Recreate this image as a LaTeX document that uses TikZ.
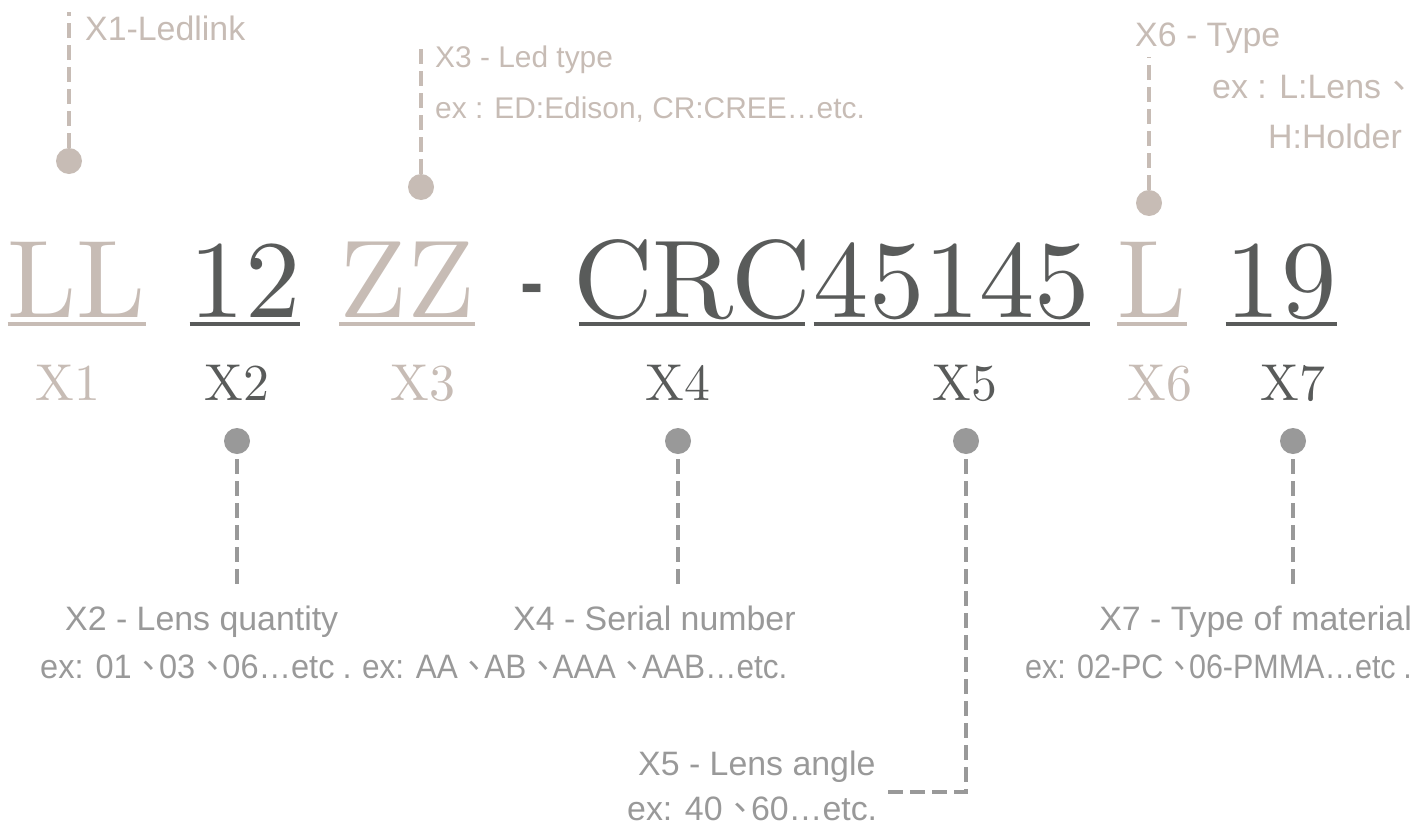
\documentclass[tikz,border=0pt]{standalone}
\usepackage{fontspec}
\usepackage{graphicx}
\usepackage{tikz}
\usetikzlibrary{calc}
\newfontfamily\labfont{Liberation Sans}
\newfontfamily\bigfont{lmroman10-regular.otf}
\newfontfamily\cjk[RawFeature=+halt]{Noto Sans CJK TC}
\newcommand{\dun}{{\cjk 、}\hspace{0.06em}}
\definecolor{beige}{RGB}{199,188,181}
\definecolor{darkgr}{RGB}{89,91,90}
\definecolor{midgr}{RGB}{153,153,153}

\begin{document}
\begin{tikzpicture}[x=1bp, y=-1bp,
    bigtxt/.style={anchor=base, inner sep=0pt, font=\bigfont\fontsize{111}{111}\selectfont},
    codetxt/.style={anchor=base, inner sep=0pt, font=\bigfont\fontsize{52}{52}\selectfont},
    notetxt/.style={anchor=base west, inner sep=0pt, font=\labfont\fontsize{34}{40}\selectfont},
    pin/.style={circle, fill, inner sep=0pt, minimum size=26bp},
    leader/.style={dash pattern=on 15bp off 7bp, line width=3.5bp}]
    \useasboundingbox (0,0) rectangle (1425,830);

    % Part code
    \node[bigtxt, beige]  (ll)   at (77,317)   {LL};
    \node[bigtxt, darkgr] (n12)  at (245,317)  {12};
    \node[bigtxt, beige]  (zz)   at (407,317)  {ZZ};
    \node[bigtxt, darkgr, font=\labfont\bfseries\fontsize{70}{70}\selectfont] (hyph) at (532,306) {-};
    \node[bigtxt, darkgr, inner xsep=-6bp] (crc) at (692,317) {CRC};
    \node[bigtxt, darkgr] (n45)  at (952,317)  {45145};
    \node[bigtxt, beige]  (l6)   at (1152,317) {L};
    \node[bigtxt, darkgr] (n19)  at (1281,317) {19};
    \foreach \n/\c in {ll/beige, n12/darkgr, zz/beige, crc/darkgr, n45/darkgr, l6/beige, n19/darkgr}
        \draw[\c, line width=4bp] ([yshift=-7bp]\n.base west) -- ([yshift=-7bp]\n.base east);

    % Field names
    \node[codetxt, beige]  (x1) at (68,400)   {X1};
    \node[codetxt, darkgr] (x2) at (237,400)  {X2};
    \node[codetxt, beige]  (x3) at (423,400)  {X3};
    \node[codetxt, darkgr] (x4) at (678,400)  {X4};
    \node[codetxt, darkgr] (x5) at (965,400)  {X5};
    \node[codetxt, beige]  (x6) at (1160,400) {X6};
    \node[codetxt, darkgr] (x7) at (1293,400) {X7};

    % Upper pins
    \node[pin, beige] (p1) at (69,161) {};
    \node[pin, beige] (p3) at (421,187) {};
    \node[pin, beige] (p6) at (1149,203) {};
    \coordinate (t1) at (69,12);
    \coordinate (t3) at (421,42);
    \coordinate (t6) at (1149,57);
    \draw[leader, beige] (p1) -- (t1);
    \draw[leader, beige] (p3) -- (t3);
    \draw[leader, beige] (p6) -- (t6);

    % Lower pins
    \node[pin, midgr] (p2) at (237,441) {};
    \node[pin, midgr] (p4) at (678,441) {};
    \node[pin, midgr] (p5) at (966,441) {};
    \node[pin, midgr] (p7) at (1293,441) {};
    \coordinate (b2) at (237,590);
    \coordinate (b4) at (678,590);
    \coordinate (b5) at (887,792);
    \coordinate (b7) at (1293,590);
    \draw[leader, midgr] ([yshift=-5bp]p2.south) -- (b2);
    \draw[leader, midgr] ([yshift=-5bp]p4.south) -- (b4);
    \draw[leader, midgr] ([yshift=-5bp]p5.south) |- (b5);
    \draw[leader, midgr] ([yshift=-5bp]p7.south) -- (b7);

    % Upper notes
    \node[notetxt, beige] (n1) at (85,40) {X1-Ledlink};
    \node[notetxt, beige, font=\labfont\fontsize{30}{36}\selectfont] (n3a) at (435,67) {X3 - Led type};
    \node[notetxt, beige, font=\labfont\fontsize{30}{36}\selectfont] (n3b) at (435,118) {ex : ED:Edison, CR:CREE…etc.};
    \node[notetxt, beige] (n6a) at (1135,46) {X6 - Type};
    \node[notetxt, beige] (n6b) at (1212,98) {ex : L:Lens \dun};
    \node[notetxt, beige, anchor=base east] (n6c) at (1402,148) {H:Holder};

    % Lower notes
    \node[notetxt, midgr] (n2a) at (65,630) {X2 - Lens quantity};
    \node[notetxt, midgr] (n2b) at (40,678) {\scalebox{0.96}[1]{ex: 01 \dun03 \dun06…etc\hspace{0.25em}.}};
    \node[notetxt, midgr] (n4a) at (513,630) {X4 - Serial number};
    \node[notetxt, midgr] (n4b) at (362,678) {\scalebox{0.93}[1]{ex: AA \dun AB \dun AAA \dun AAB…etc.}};
    \node[notetxt, midgr, anchor=base east] (n7a) at (1412,630) {X7 - Type of material};
    \node[notetxt, midgr, anchor=base east] (n7b) at (1412,678) {\scalebox{0.9}[1]{ex: 02-PC \dun06-PMMA…etc\hspace{0.25em}.}};
    \node[notetxt, midgr] (n5a) at (638,775) {X5 - Lens angle};
    \node[notetxt, midgr] (n5b) at (627,820) {ex: 40 \dun60…etc.};
\end{tikzpicture}
\end{document}
